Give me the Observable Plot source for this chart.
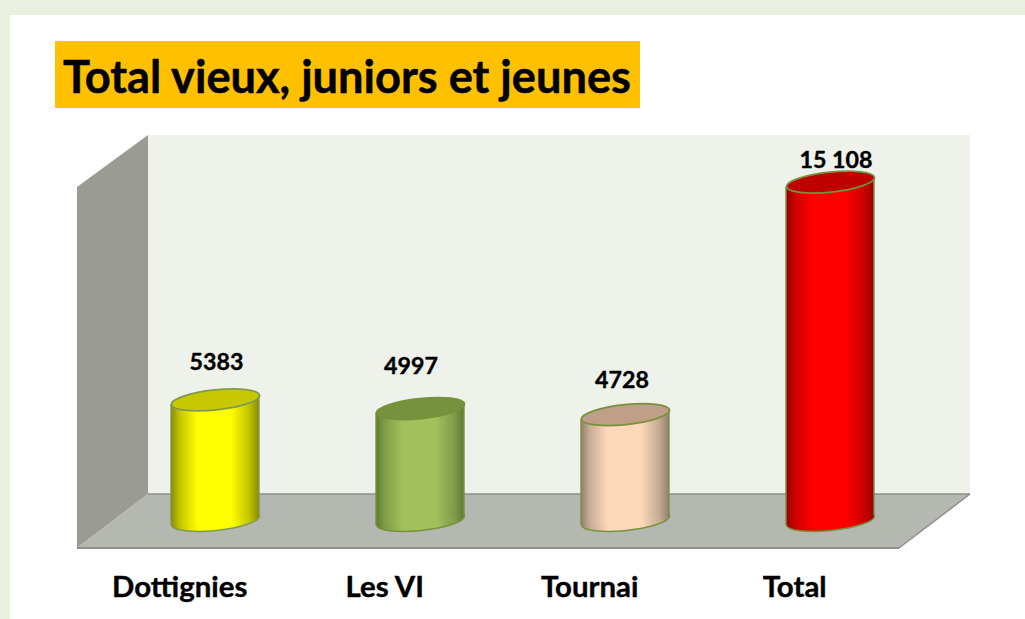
<!DOCTYPE html>
<html>
<head>
<meta charset="utf-8">
<script src="https://cdn.jsdelivr.net/npm/d3@7"></script>
<script src="https://cdn.jsdelivr.net/npm/@observablehq/plot@0.6"></script>
<style>
html, body { margin: 0; padding: 0; background: #e9f0dd; overflow: hidden; font-family: Lato, sans-serif; }
#panel { position: absolute; left: 10px; top: 15px; width: 1015px; height: 604px; background: #fff; }
#title { position: absolute; left: 45px; top: 26px; width: 577px; height: 67px; line-height: 69px; padding-left: 8px;
  background: #ffc000; color: #000; font-weight: 700; font-size: 45.2px; white-space: nowrap; -webkit-text-stroke: 0.5px #000; }
#chart { position: absolute; left: 0; top: 93px; }
#chart svg { display: block; background: transparent; }
</style>
</head>
<body>
<div id="panel">
  <div id="title">Total vieux, juniors et jeunes</div>
  <div id="chart"></div>
</div>
<script>
const categories = ["Dottignies", "Les VI", "Tournai", "Total"];
const values = [5383, 4997, 4728, 15108];
const valueLabels = ["5383", "4997", "4728", "15 108"];

const bodyEdge = ["#8a8b00", "#5f7a33", "#937f6e", "#980000"];
const bodyMid = ["#ffff00", "#a0c15c", "#fdd9ba", "#ff0000"];
const topColors = ["#c8c800", "#76923c", "#bf9f88", "#c00000"];
const outlineColors = ["#7f9a50", "#76923c", "#76923c", "#76923c"];

const labelLift = [37, 42, 34, 22];
const labelShift = [1, -9.5, -3.5, 5.5];

const rows = categories.map((c, i) => ({
  category: c, value: values[i], label: valueLabels[i], index: i,
  gradient: `url(#body${i})`, top: topColors[i], outline: outlineColors[i]
}));

const W = 1015, H = 511;
const rx = 44.3, ry = 10, tilt = -6;

const ellipse = {
  draw(ctx) {
    const k = 0.5523;
    ctx.moveTo(-rx, 0);
    ctx.bezierCurveTo(-rx, -ry * k, -rx * k, -ry, 0, -ry);
    ctx.bezierCurveTo(rx * k, -ry, rx, -ry * k, rx, 0);
    ctx.bezierCurveTo(rx, ry * k, rx * k, ry, 0, ry);
    ctx.bezierCurveTo(-rx * k, ry, -rx, ry * k, -rx, 0);
    ctx.closePath();
  }
};

function gradients() {
  const defs = d3.create("svg:defs");
  categories.forEach((c, i) => {
    const g = defs.append("linearGradient").attr("id", `body${i}`)
      .attr("x1", 0).attr("x2", 1).attr("y1", 0).attr("y2", 0);
    const mix = d3.interpolateRgb(bodyEdge[i], bodyMid[i]);
    [[0, 0], [0.1, 0.5], [0.3, 1], [0.68, 1], [0.88, 0.5], [1, 0]]
      .forEach(([o, t]) => g.append("stop").attr("offset", o).attr("stop-color", mix(t)));
  });
  return defs.node();
}

function room(index, {y}) {
  const base = y(0);
  const [xl, xr] = [67, 889];      // front edge of the floor
  const dx = 71;                   // depth offset
  const back = base - 26, front = base + 28, top = back - 359;
  const g = d3.create("svg:g");
  const poly = (pts, fill) => g.append("polygon").attr("points", pts.map(p => p.join(",")).join(" ")).attr("fill", fill);
  poly([[xl + dx, top], [xr + dx, top], [xr + dx, back], [xl + dx, back]], "#eff2eb");
  poly([[xl, top + 52], [xl + dx, top], [xl + dx, back], [xl, front]], "#9a9c94");
  poly([[xl + dx, back], [xr + dx, back], [xr, front], [xl, front]], "#b5b8b0");
  const line = (a, b, w) => g.append("line").attr("x1", a[0]).attr("y1", a[1]).attr("x2", b[0]).attr("y2", b[1])
    .attr("stroke", "#8e908a").attr("stroke-width", w);
  line([xl + dx, back], [xr + dx, back], 1.5);
  line([xl, front], [xr, front], 2);
  line([xr, front], [xr + dx, back], 1.5);
  return g.node();
}

function skewBody(index, scales, vals, dims, ctx, next) {
  const g = next(index, scales, vals, dims, ctx);
  d3.select(g).selectAll("rect").each(function () {
    const r = d3.select(this);
    const w = +r.attr("width"), h = +r.attr("height"), x0 = +r.attr("x");
    const cx = x0 + w / 2;
    r.attr("transform", `translate(${cx},0) skewY(${tilt}) translate(${-cx},0)`)
     .attr("stroke-dasharray", `0 ${w} ${h} ${w} ${h}`);
  });
  return g;
}

const chart = Plot.plot({
  width: W,
  height: H,
  marginLeft: 0, marginRight: 0, marginTop: 0, marginBottom: 71,
  style: {fontFamily: "Lato, sans-serif", background: "transparent", overflow: "visible"},
  x: {domain: categories, range: [102.1, 923.44], paddingInner: 0.5714, paddingOuter: 0.2857, label: null},
  y: {domain: [0, 16000], range: [412, 53.6], axis: null},
  marks: [
    gradients,
    room,
    Plot.dot(rows, {
      x: "category", y: () => 0, symbol: ellipse, rotate: tilt,
      fill: {value: d => d.gradient, scale: null},
      stroke: {value: d => d.outline, scale: null}, strokeWidth: 1.4
    }),
    Plot.barY(rows, {
      x: "category", y: "value",
      fill: {value: d => d.gradient, scale: null},
      stroke: {value: d => d.outline, scale: null}, strokeWidth: 1.4,
      render: skewBody
    }),
    Plot.dot(rows, {
      x: "category", y: "value", symbol: ellipse, rotate: tilt,
      fill: {value: d => d.top, scale: null},
      stroke: {value: d => d.outline, scale: null}, strokeWidth: 1.8
    }),
    ...rows.map((d, i) => Plot.text([d], {
      x: "category", y: "value", text: "label",
      dx: labelShift[i], dy: -labelLift[i],
      fontSize: 23.2, fontWeight: 700, fill: "#000", stroke: "#000", strokeWidth: 0.4
    })),
    Plot.axisX({
      anchor: "bottom", tickSize: 0, tickPadding: 28, dx: -35.8,
      fontSize: 29.4, fontWeight: 700, fill: "#000", textStroke: "#000", textStrokeWidth: 0.4, label: null
    })
  ]
});
document.getElementById("chart").appendChild(chart);
</script>
</body>
</html>
